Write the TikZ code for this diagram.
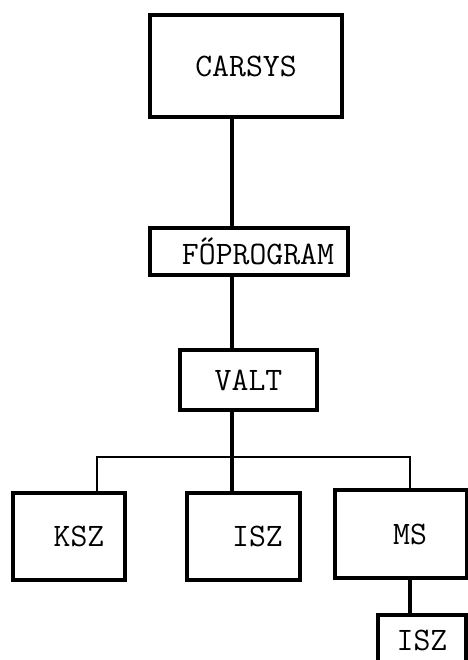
\documentclass[tikz,border=0pt]{standalone}
\usepackage{fontspec}
\begin{document}
\begin{tikzpicture}[x=0.3mm,y=-0.3mm,
		box/.style={draw,line width=2.8pt,inner sep=0pt,font=\fontsize{28}{32}\selectfont\ttfamily},
		wire/.style={line width=2.6pt}]
				\useasboundingbox (0,0) rectangle (468,660);
				\clip (0,0) rectangle (468,660);
				\node[box,minimum width=57.6mm,minimum height=30.6mm] (carsys) at (246,66) {CARSYS};
				\node[box,minimum width=59.4mm,minimum height=14.1mm] (fo) at (249,251.5) {\hspace*{5.4mm}FŐPROGRAM};
				\node[box,minimum width=41.1mm,minimum height=18mm] (valt) at (248.5,380) {VALT};
				\node[box,minimum width=33.6mm,minimum height=26.1mm] (ksz) at (69,536.5) {\hspace*{6mm}KSZ};
				\node[box,minimum width=33.9mm,minimum height=26.1mm] (isz) at (243.5,536.5) {\hspace*{8.4mm}ISZ};
				\node[box,minimum width=39.6mm,minimum height=26.4mm] (ms) at (401,534) {\hspace*{5.4mm}MS};
				\node[box,minimum width=26.4mm,minimum height=15mm] (iszb) at (422,640) {ISZ};
				\coordinate (trunk) at (232,457);
				\coordinate (busl) at (97,457);
				\coordinate (busr) at (410,457);
				\draw[wire] (carsys.south -| trunk) -- (fo.north -| trunk);
				\draw[wire] (fo.south -| trunk) -- (valt.north -| trunk);
				\draw[wire] (valt.south -| trunk) -- (isz.north -| trunk);
				\draw[line width=2.2pt] (ksz.north -| busl) -- (busl) -- (busr) -- (ms.north -| busr);
				\draw[wire] (ms.south -| busr) -- (iszb.north -| busr);
\end{tikzpicture}
\end{document}
